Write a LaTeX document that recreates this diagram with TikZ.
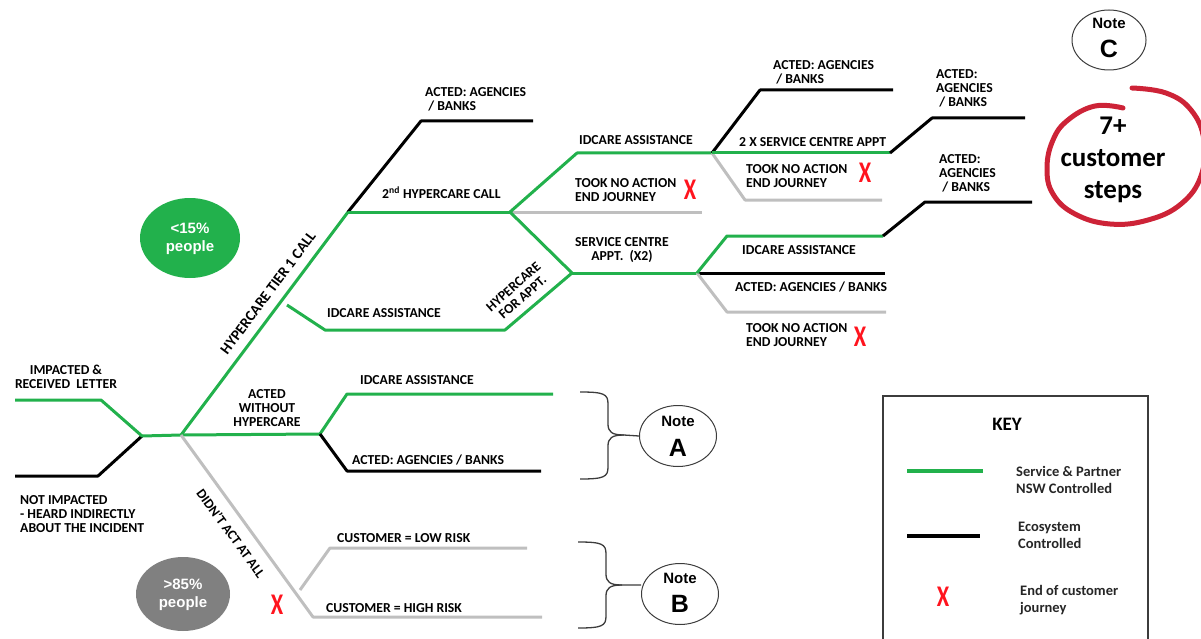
\documentclass[tikz,border=0pt]{standalone}
\usepackage{fontspec}
\setmainfont{Carlito}
\newfontfamily\arialfont{Liberation Sans}
\usetikzlibrary{shapes.geometric}
\definecolor{nswgreen}{RGB}{34,177,76}
\definecolor{idlegrey}{RGB}{191,191,191}
\definecolor{bubblegrey}{RGB}{128,128,128}
\definecolor{endred}{RGB}{255,20,30}
\definecolor{ringred}{RGB}{205,35,55}
\definecolor{inkgrey}{RGB}{60,60,60}

\begin{document}
\begin{tikzpicture}[x=1pt,y=-1pt,
  svc/.style={draw=nswgreen,line width=3pt,line join=round},
  eco/.style={draw=black,line width=3pt,line join=round},
  idle/.style={draw=idlegrey,line width=3pt,line join=round},
  lbl/.style={font=\fontsize{13.7}{14}\selectfont\bfseries,inner sep=0pt,align=left},
  clbl/.style={lbl,align=center},
  endx/.style={font=\fontsize{30}{30}\selectfont\bfseries,text=endred,inner sep=0pt,xscale=0.75},
  bubble/.style={ellipse,inner sep=0pt,minimum width=#1},
  bubbletxt/.style={font=\arialfont\fontsize{15}{18}\selectfont\bfseries,text=white,align=center,inner sep=0pt},
  noteshape/.style={ellipse,draw=inkgrey,line width=1pt,minimum width=77pt,minimum height=61pt,inner sep=0pt},
  notesmall/.style={font=\arialfont\fontsize{15}{15}\selectfont\bfseries,inner sep=0pt},
  notebig/.style={font=\arialfont\fontsize{25}{25}\selectfont\bfseries,inner sep=0pt},
  bracket/.style={draw=inkgrey,line width=1.3pt},
  keytxt/.style={font=\fontsize{14.5}{17}\selectfont\bfseries,inner sep=0pt,align=left,text=black!85}
]
\useasboundingbox (0,0) rectangle (1201,639);

% ---------- junction coordinates ----------
\coordinate (inA) at (15,400);  \coordinate (inA2) at (101,400);
\coordinate (inB) at (15,476);  \coordinate (inB2) at (98,476);
\coordinate (j0) at (142,436);
\coordinate (j1) at (181,435);
\coordinate (j2) at (348,212);
\coordinate (j3) at (510,212);
\coordinate (j4) at (712,153);
\coordinate (j5) at (572,273);
\coordinate (j6) at (697,273);
\coordinate (j7) at (890,153);
\coordinate (j8) at (883,236);
\coordinate (j9) at (320,434);

% ---------- entry paths ----------
\draw[eco] (inB) -- (inB2) -- (j0);
\draw[svc] (inA) -- (inA2) -- (j0) -- (j1);

% ---------- hypercare tier 1 branch ----------
\draw[svc] (j1) -- (j2);
\draw[eco] (j2) -- (421,121) coordinate (e1) -- (533,121) coordinate (e1end);
\draw[svc] (j2) -- (j3);
\draw[idle] (j3) -- (702,212) coordinate (n1end);
\draw[svc] (j3) -- (577,153) -- (j4);
\draw[svc] (j3) -- (j5);
\draw[svc] (287,305) coordinate (idc0) -- (325,330) -- (505,330) coordinate (idc1) -- (j5);
\draw[svc] (j5) -- (j6);

% second hypercare: IDCARE -> outcomes
\draw[eco] (j4) -- (760,90) -- (893,90) coordinate (e2end);
\draw[idle] (j4) -- (745,200) -- (882,200) coordinate (n2end);
\draw[svc] (j4) -- (j7);
\draw[eco] (j7) -- (932,118) -- (1025,118) coordinate (e3end);

% service centre appointments -> outcomes
\draw[eco] (j6) -- (885,273) coordinate (e4end);
\draw[idle] (j6) -- (727,312) -- (886,312) coordinate (n3end);
\draw[svc] (j6) -- (727,236) -- (j8);
\draw[eco] (j8) -- (925,202) -- (1032,202) coordinate (e5end);

% ---------- acted without hypercare ----------
\draw[svc] (j1) -- (j9);
\draw[svc] (j9) -- (347,394) -- (553,394) coordinate (w1end);
\draw[eco] (j9) -- (347,471) -- (541,471) coordinate (w2end);

% ---------- didn't act at all ----------
\draw[idle] (j1) -- (313,617) -- (542,617) coordinate (r2end);
\draw[idle] (300,590) coordinate (r1start) -- (330,548) -- (527,548) coordinate (r1end);

% ---------- labels ----------
\node[clbl] (tImp) at (66,377) {IMPACTED \&\\RECEIVED\ \ LETTER};
\node[lbl,anchor=west] (tNot) at (20,514) {NOT IMPACTED\\- HEARD INDIRECTLY\\ABOUT THE INCIDENT};
\node[clbl] (tWithout) at (267,408) {ACTED\\WITHOUT\\HYPERCARE};
\node[lbl,font=\fontsize{15}{15}\selectfont\bfseries,rotate=53.2] (tTier) at (268,293) {HYPERCARE TIER 1 CALL};
\node[lbl,rotate=-54] (tDidnt) at (231,533) {DIDN'T ACT AT ALL};
\node[lbl,anchor=west] (tAg1) at (425,99) {ACTED: AGENCIES\\\ / BANKS};
\node[lbl,anchor=west] (t2nd) at (382,193) {2\textsuperscript{nd} HYPERCARE CALL};
\node[lbl,anchor=west] (tIdc1) at (327,313) {IDCARE ASSISTANCE};
\node[clbl,rotate=41.5] (tForAppt) at (518,292) {HYPERCARE\\FOR APPT.};
\node[lbl,anchor=west] (tIdc2) at (579,140) {IDCARE ASSISTANCE};
\node[lbl,anchor=west] (tNo1) at (575,190) {TOOK NO ACTION\\END JOURNEY};
\node[endx] (x1) at (690,190) {X};
\node[clbl] (tSvc) at (622,250) {SERVICE CENTRE\\APPT.\ \ (X2)};
\node[lbl,anchor=west] (tAg2) at (773,72) {ACTED: AGENCIES\\\ / BANKS};
\node[lbl,anchor=west] (t2x) at (739,142) {2 X SERVICE CENTRE APPT};
\node[lbl,anchor=west] (tNo2) at (746,176) {TOOK NO ACTION\\END JOURNEY};
\node[endx] (x2) at (865,173) {X};
\node[lbl,anchor=west] (tAg3) at (936,88) {ACTED:\\AGENCIES\\\ / BANKS};
\node[lbl,anchor=west] (tAg4) at (939,173) {ACTED:\\AGENCIES\\\ / BANKS};
\node[lbl,anchor=west] (tIdc3) at (742,250) {IDCARE ASSISTANCE};
\node[lbl,anchor=west] (tAg5) at (735,287) {ACTED: AGENCIES / BANKS};
\node[lbl,anchor=west] (tNo3) at (746,335) {TOOK NO ACTION\\END JOURNEY};
\node[endx] (x3) at (860,337) {X};
\node[lbl,anchor=west] (tIdc4) at (360,380) {IDCARE ASSISTANCE};
\node[lbl,anchor=west] (tAg6) at (352,460) {ACTED: AGENCIES / BANKS};
\node[lbl,anchor=west] (tLow) at (337,538) {CUSTOMER = LOW RISK};
\node[lbl,anchor=west] (tHigh) at (326,608) {CUSTOMER = HIGH RISK};
\node[endx] (x4) at (277,605) {X};

% ---------- share bubbles ----------
\node[bubble=100pt,minimum height=80pt,fill=nswgreen] (pLow) at (190,238) {};
\node[bubbletxt] (pLowTxt) at (190,239) {<15\%\\people};
\node[bubble=94pt,minimum height=74pt,fill=bubblegrey] (pHigh) at (183,594) {};
\node[bubbletxt] (pHighTxt) at (183,595) {>85\%\\people};

% ---------- notes and brackets ----------
\node[noteshape] (noteA) at (678,436) {};
\node[notesmall] (noteAt) at (678,421) {Note};
\node[notebig] (noteAl) at (678,448) {A};
\node[noteshape] (noteB) at (680,594) {};
\node[notesmall] (noteBt) at (680,578) {Note};
\node[notebig] (noteBl) at (680,604) {B};
\node[noteshape,minimum width=74pt,minimum height=60pt] (noteC) at (1109,40) {};
\node[notesmall] (noteCt) at (1109,23) {Note};
\node[notebig] (noteCl) at (1109,49) {C};

\draw[bracket] (580,392) .. controls (604,392) and (608,394) .. (608,404) -- (608,424)
  .. controls (608,432) and (612,435) .. (624,435) -- (noteA.west);
\draw[bracket] (580,479) .. controls (604,479) and (608,477) .. (608,467) -- (608,446)
  .. controls (608,438) and (612,435) .. (624,435);
\draw[bracket] (578,542) .. controls (602,542) and (606,544) .. (606,554) -- (606,574)
  .. controls (606,582) and (610,585) .. (622,585) -- (noteB.west |- 0,585);
\draw[bracket] (578,628) .. controls (602,628) and (606,626) .. (606,616) -- (606,596)
  .. controls (606,588) and (610,585) .. (622,585);

% ---------- customer steps callout ----------
\node[font=\fontsize{27}{32}\selectfont\bfseries,align=center,inner sep=0pt] (steps) at (1113,160) {7+\\customer\\steps};
\draw[draw=ringred,line width=5pt,line cap=round]
  plot[smooth,tension=0.7] coordinates {(1132,88) (1166,93) (1191,110) (1204,140) (1201,176)
  (1181,204) (1148,220) (1110,224) (1075,214) (1053,194) (1047,168) (1053,140)
  (1068,120) (1095,106) (1123,108)};

% ---------- key ----------
\draw[draw=inkgrey,line width=1.3pt] (883,640) -- (883,396) -- (1148,396) -- (1148,640);
\node[font=\fontsize{19}{19}\selectfont\bfseries,inner sep=0pt] (keyT) at (1007,424) {KEY};
\coordinate (kg0) at (907,471); \coordinate (kg1) at (983,471);
\draw[svc,line width=4pt] (kg0) -- (kg1);
\node[keytxt,anchor=west] (kgT) at (1016,480) {Service \& Partner\\NSW Controlled};
\coordinate (kb0) at (907,536); \coordinate (kb1) at (980,536);
\draw[eco,line width=4pt] (kb0) -- (kb1);
\node[keytxt,anchor=west] (kbT) at (1018,535) {Ecosystem\\Controlled};
\node[endx] (kx) at (943,597) {X};
\node[keytxt,anchor=west] (kxT) at (1020,600) {End of customer\\journey};
\end{tikzpicture}
\end{document}
